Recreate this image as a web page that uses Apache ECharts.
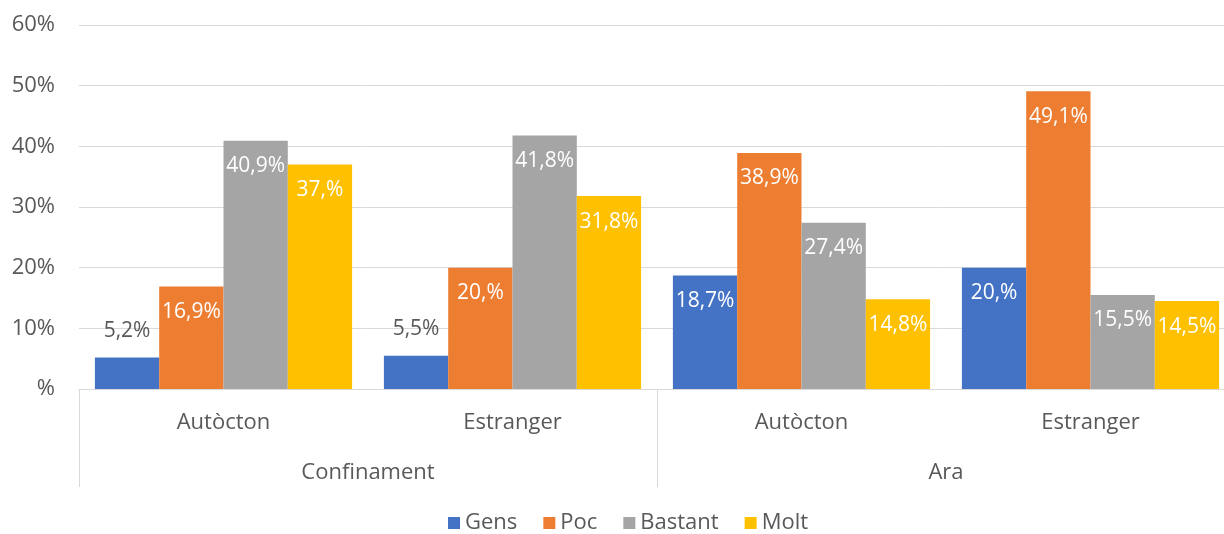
<!DOCTYPE html>
<html>
<head>
<meta charset="utf-8">
<script src="https://cdn.jsdelivr.net/npm/echarts@6/dist/echarts.min.js"></script>
<style>
  html, body { margin: 0; padding: 0; background: #fff; overflow: hidden; }
  #chart { width: 1224px; height: 534px; }
</style>
</head>
<body>
<div id="chart"></div>
<script>
// Subgroups along the x axis and the periods they belong to
const subgroups = ['Autòcton', 'Estranger', 'Autòcton', 'Estranger'];
const periods = ['Confinament', 'Ara'];
const seriesNames = ['Gens', 'Poc', 'Bastant', 'Molt'];

// Percentages per subgroup (Confinament Autòcton, Confinament Estranger, Ara Autòcton, Ara Estranger)
const gens = [5.2, 5.5, 18.7, 20.0];
const poc = [16.9, 20.0, 38.9, 49.1];
const bastant = [40.9, 41.8, 27.4, 15.5];
const molt = [37.0, 31.8, 14.8, 14.5];

const yTicks = [0, 10, 20, 30, 40, 50, 60];

const colors = ['#4472C4', '#ED7D31', '#A5A5A5', '#FFC000'];
const FONT = '"Open Sans", "Noto Sans", sans-serif';
const TEXT = '#595959';

// Catalan number style: decimal comma; whole values keep the trailing comma
function pct(v) {
  const s = Number.isInteger(v) ? v + ',' : String(v).replace('.', ',');
  return s + '%';
}

function barSeries(name, data, idx) {
  return {
    name: name,
    type: 'bar',
    xAxisIndex: 0,
    data: data.map(function (v) {
      // Short bars carry their label above the bar in grey
      if (v < 10) {
        return { value: v, label: { position: 'top', color: TEXT, distance: 16 } };
      }
      return v;
    }),
    itemStyle: { color: colors[idx] },
    barGap: '0%',
    barCategoryGap: '11%',
    label: {
      show: true,
      position: 'insideTop',
      distance: 15,
      color: '#ffffff',
      fontFamily: FONT,
      fontSize: 21,
      formatter: function (p) { return pct(p.value); }
    }
  };
}

const chart = echarts.init(document.getElementById('chart'));
chart.setOption({
  animation: false,
  textStyle: { fontFamily: FONT },
  grid: { left: 79, right: -11, top: 25, bottom: 145, containLabel: false, outerBoundsMode: 'none' },
  legend: {
    data: seriesNames,
    bottom: -5,
    left: 443,
    itemWidth: 12,
    itemHeight: 12,
    itemGap: 26,
    icon: 'rect',
    textStyle: { color: TEXT, fontSize: 22, fontFamily: FONT }
  },
  xAxis: [
    {
      type: 'category',
      data: subgroups,
      position: 'bottom',
      axisLine: { show: true, lineStyle: { color: '#d9d9d9', width: 1 } },
      axisTick: { show: false },
      axisLabel: { color: TEXT, fontSize: 22, fontFamily: FONT, margin: 23 },
      splitLine: { show: false }
    },
    {
      type: 'category',
      data: periods,
      position: 'bottom',
      gridIndex: 0,
      axisLine: { show: false },
      axisTick: { show: true, length: 98, lineStyle: { color: '#d9d9d9', width: 1 } },
      axisLabel: { color: TEXT, fontSize: 22, fontFamily: FONT, margin: 73 },
      splitLine: { show: false }
    }
  ],
  yAxis: {
    type: 'value',
    min: yTicks[0],
    max: yTicks[yTicks.length - 1],
    interval: 10,
    axisLine: { show: false },
    axisTick: { show: false },
    axisLabel: {
      color: TEXT,
      fontSize: 22,
      fontFamily: FONT,
      margin: 24,
      formatter: function (v) { return v === 0 ? '%' : v + '%'; }
    },
    splitLine: { lineStyle: { color: '#d9d9d9', width: 1 } }
  },
  series: [
    barSeries(seriesNames[0], gens, 0),
    barSeries(seriesNames[1], poc, 1),
    barSeries(seriesNames[2], bastant, 2),
    barSeries(seriesNames[3], molt, 3)
  ]
});
</script>
</body>
</html>
